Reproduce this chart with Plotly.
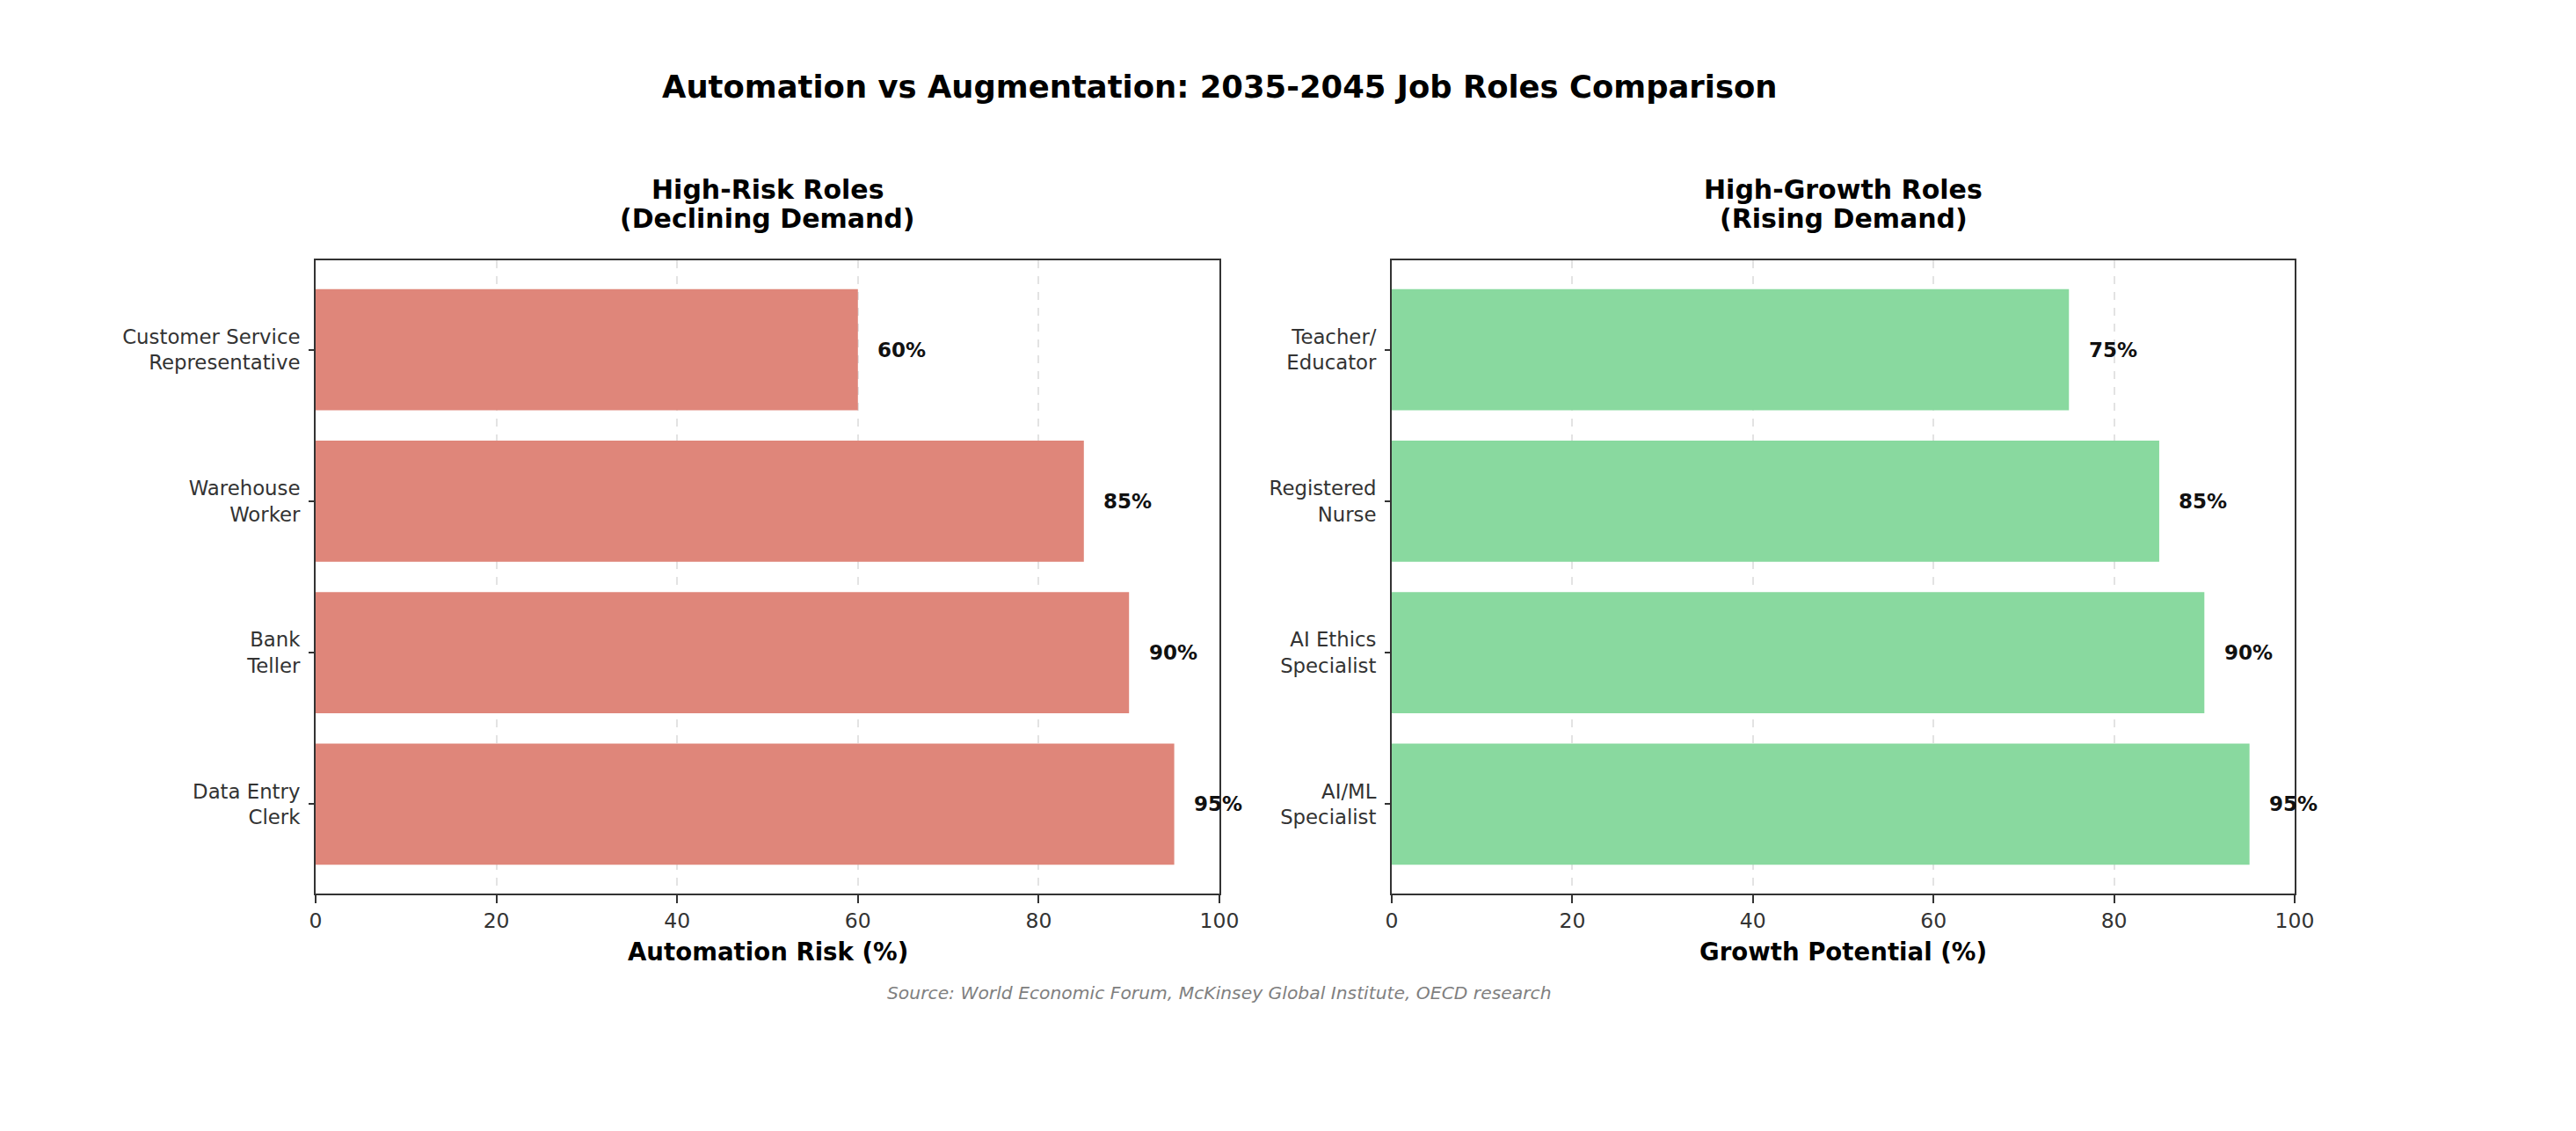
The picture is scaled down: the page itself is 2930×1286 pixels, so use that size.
import plotly.graph_objects as go

# ---- data ----
risk_roles = ["Data Entry<br>Clerk", "Bank<br>Teller", "Warehouse<br>Worker", "Customer Service<br>Representative"]
risk_values = [95, 90, 85, 60]
growth_roles = ["AI/ML<br>Specialist", "AI Ethics<br>Specialist", "Registered<br>Nurse", "Teacher/<br>Educator"]
growth_values = [95, 90, 85, 75]
x_ticks = [0, 20, 40, 60, 80, 100]

W, H = 2930, 1286
FONT = "DejaVu Sans"
RED = "#DF867A"
GREEN = "#89D99F"

def px(xp):
    return xp / W

def py(yp):
    return 1 - yp / H

xdom1 = [px(359), px(1387)]
xdom2 = [px(1583), px(2610)]
ydom = [py(1016), py(296)]

fig = go.Figure()
fig.add_trace(go.Bar(x=risk_values, y=list(range(len(risk_roles))), orientation="h",
                     marker=dict(color=RED, line=dict(width=0)), width=0.8,
                     xaxis="x", yaxis="y", showlegend=False, hoverinfo="skip"))
fig.add_trace(go.Bar(x=growth_values, y=list(range(len(growth_roles))), orientation="h",
                     marker=dict(color=GREEN, line=dict(width=0)), width=0.8,
                     xaxis="x2", yaxis="y2", showlegend=False, hoverinfo="skip"))

axis_common = dict(showline=True, linecolor="#333333", linewidth=2, mirror=True,
                   ticks="outside", ticklen=9, tickwidth=2, tickcolor="#333333",
                   zeroline=False, automargin=False)

xcommon = dict(axis_common, range=[0, 100], tickvals=x_ticks, ticktext=[str(t) for t in x_ticks],
               showgrid=True, gridcolor="#e3e3e3", griddash="dash", gridwidth=1.5,
               tickfont=dict(family=FONT, size=23.5, color="#333333"))

ycommon = dict(axis_common, range=[-0.59, 3.59], showgrid=False, ticklen=6,
               ticklabelstandoff=5,
               tickfont=dict(family=FONT, size=22.8, color="#333333"))

fig.update_layout(
    width=W, height=H, autosize=False,
    margin=dict(l=0, r=0, t=0, b=0, pad=0),
    paper_bgcolor="white", plot_bgcolor="white",
    font=dict(family=FONT),
    xaxis=dict(xcommon, domain=xdom1, anchor="y"),
    yaxis=dict(ycommon, domain=ydom, anchor="x",
               tickvals=list(range(len(risk_roles))), ticktext=risk_roles),
    xaxis2=dict(xcommon, domain=xdom2, anchor="y2"),
    yaxis2=dict(ycommon, domain=ydom, anchor="x2",
                tickvals=list(range(len(growth_roles))), ticktext=growth_roles),
)

ann = []
# main title
ann.append(dict(text="<b>Automation vs Augmentation: 2035-2045 Job Roles Comparison</b>",
                x=px(1387), y=py(99), xref="paper", yref="paper", showarrow=False,
                xanchor="center", yanchor="middle", font=dict(family=FONT, size=35.4, color="black")))
# subplot titles (two lines each, placed separately for tighter line spacing)
subtitles = [("High-Risk Roles", "(Declining Demand)", xdom1),
             ("High-Growth Roles", "(Rising Demand)", xdom2)]
for l1, l2, dom in subtitles:
    for txt, yy in [(l1, 216), (l2, 248)]:
        ann.append(dict(text=f"<b>{txt}</b>", x=(dom[0] + dom[1]) / 2, y=py(yy),
                        xref="paper", yref="paper", showarrow=False,
                        xanchor="center", yanchor="middle",
                        font=dict(family=FONT, size=30, color="black")))
# axis titles
for txt, dom in [("<b>Automation Risk (%)</b>", xdom1), ("<b>Growth Potential (%)</b>", xdom2)]:
    ann.append(dict(text=txt, x=(dom[0] + dom[1]) / 2, y=py(1082), xref="paper", yref="paper",
                    showarrow=False, xanchor="center", yanchor="middle",
                    font=dict(family=FONT, size=27.6, color="black")))
# value labels
for i, v in enumerate(risk_values):
    ann.append(dict(text=f"<b>{v}%</b>", x=v + 2, y=i, xref="x", yref="y", showarrow=False,
                    xanchor="left", yanchor="middle", font=dict(family=FONT, size=23, color="#111111")))
for i, v in enumerate(growth_values):
    ann.append(dict(text=f"<b>{v}%</b>", x=v + 2, y=i, xref="x2", yref="y2", showarrow=False,
                    xanchor="left", yanchor="middle", font=dict(family=FONT, size=23, color="#111111")))
# source
ann.append(dict(text="<i>Source: World Economic Forum, McKinsey Global Institute, OECD research</i>",
                x=px(1387), y=py(1129), xref="paper", yref="paper", showarrow=False,
                xanchor="center", yanchor="middle", font=dict(family=FONT, size=20.3, color="#808080")))

fig.update_layout(annotations=ann)
fig.write_html("out.html", config={"displayModeBar": False},
               post_script="document.body.style.margin='0';")
